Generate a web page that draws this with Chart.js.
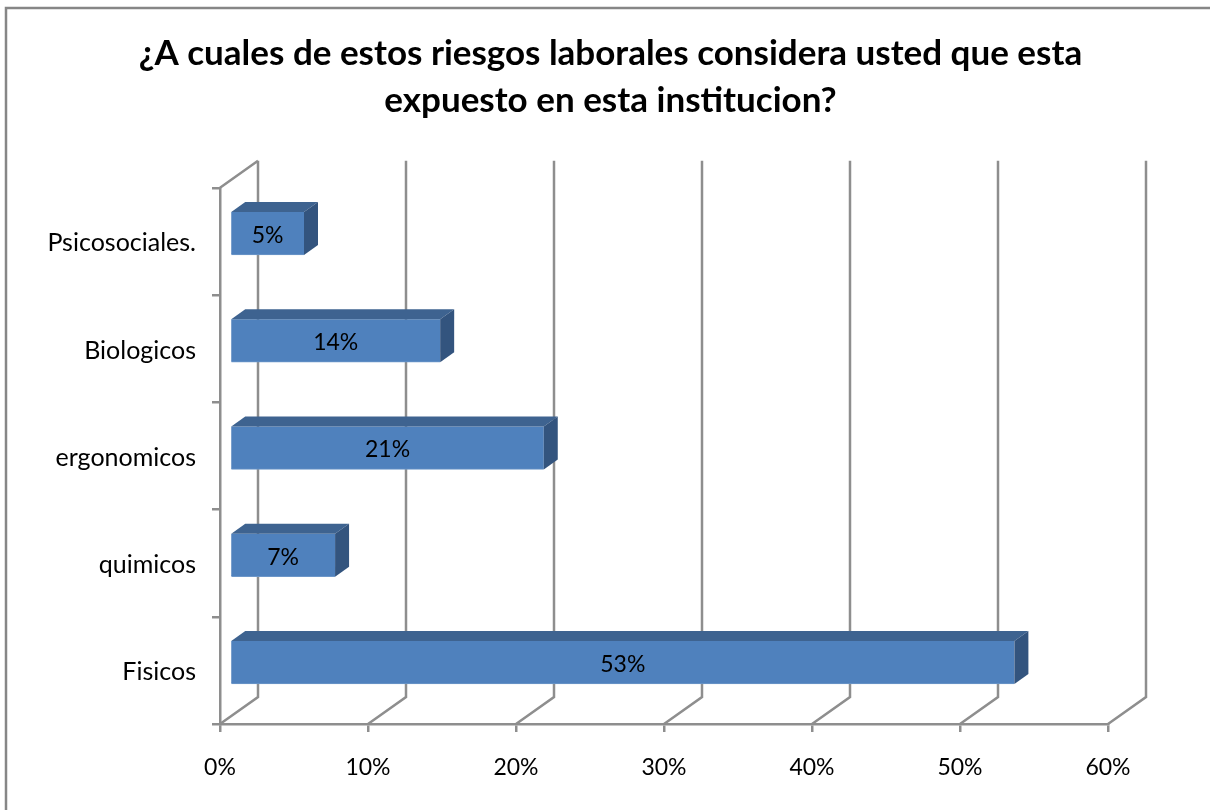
<!DOCTYPE html>
<html>
<head>
<meta charset="utf-8">
<title>Riesgos laborales</title>
<script src="https://cdn.jsdelivr.net/npm/chart.js@4"></script>
<style>
    html, body { margin: 0; padding: 0; background: #ffffff; overflow: hidden; }
    canvas { display: block; }
</style>
</head>
<body>
<canvas id="barChart" width="1210" height="810"></canvas>
<script>
const titleLines = ["¿A cuales de estos riesgos laborales considera usted que esta", "expuesto en esta institucion?"];
const categories = ["Psicosociales.", "Biologicos", "ergonomicos", "quimicos", "Fisicos"];
// bar lengths as measured, the labels on the bars show them rounded
const values = [5, 14.2, 21.2, 7.1, 53];
const xTicks = [0, 10, 20, 30, 40, 50, 60];

const FONT = "Lato, 'Open Sans', sans-serif";
const GRID = "#8e8e8e";

// fake 3d: back wall shift and the shift of the bars inside the box
const wallDx = 38, wallDy = -27;
const barDx = 10, barDy = -8;
const topDx = 14, topDy = -10;

const box3d = {
    id: "box3d",
    beforeDraw(chart) {
        // outer frame, only top and left fit in the picture
        const ctx = chart.ctx;
        ctx.save();
        ctx.strokeStyle = "#868686";
        ctx.lineWidth = 2.5;
        ctx.beginPath();
        ctx.moveTo(6, 810);
        ctx.lineTo(6, 8);
        ctx.lineTo(1210, 8);
        ctx.stroke();
        ctx.restore();
    },
    beforeDatasetsDraw(chart) {
        const ctx = chart.ctx, x = chart.scales.x, a = chart.chartArea;
        ctx.save();
        ctx.strokeStyle = GRID;
        ctx.lineWidth = 2.5;
        ctx.beginPath();
        xTicks.forEach(t => {
            const px = x.getPixelForValue(t);
            ctx.moveTo(px + wallDx, a.top + wallDy);
            ctx.lineTo(px + wallDx, a.bottom + wallDy);
            ctx.lineTo(px, a.bottom);
        });
        ctx.moveTo(a.left, a.top);
        ctx.lineTo(a.left + wallDx, a.top + wallDy);
        ctx.stroke();
        ctx.restore();
    },
    beforeDatasetDraw(chart) {
        chart.ctx.save();
        chart.ctx.translate(barDx, barDy);
    },
    afterDatasetDraw(chart, args) {
        const ctx = chart.ctx;
        args.meta.data.forEach((bar, i) => {
            const top = bar.y - bar.height / 2, bottom = bar.y + bar.height / 2;
            // top face
            ctx.fillStyle = "#3e6390";
            ctx.beginPath();
            ctx.moveTo(bar.base, top);
            ctx.lineTo(bar.base + topDx, top + topDy);
            ctx.lineTo(bar.x + topDx, top + topDy);
            ctx.lineTo(bar.x, top);
            ctx.closePath();
            ctx.fill();
            // side face
            ctx.fillStyle = "#33547e";
            ctx.beginPath();
            ctx.moveTo(bar.x, top);
            ctx.lineTo(bar.x + topDx, top + topDy);
            ctx.lineTo(bar.x + topDx, bottom + topDy);
            ctx.lineTo(bar.x, bottom);
            ctx.closePath();
            ctx.fill();
            // value label
            ctx.fillStyle = "#000000";
            ctx.font = "23px " + FONT;
            ctx.textAlign = "center";
            ctx.textBaseline = "middle";
            ctx.fillText(Math.round(values[i]) + "%", (bar.base + bar.x) / 2, bar.y + 2);
        });
        ctx.restore();
    }
};

new Chart(document.getElementById("barChart"), {
    type: "bar",
    data: {
        labels: categories,
        datasets: [{
            data: values,
            backgroundColor: "#4f81bd",
            borderColor: "#6d97c9",
            borderWidth: { bottom: 1 },
            barThickness: 43
        }]
    },
    plugins: [box3d],
    options: {
        indexAxis: "y",
        responsive: false,
        animation: false,
        layout: { padding: { left: 11, right: 0, top: 0, bottom: 0 } },
        plugins: {
            legend: { display: false },
            tooltip: { enabled: false },
            title: {
                display: true,
                text: titleLines,
                color: "#000000",
                font: { family: FONT, size: 35, weight: "bold", lineHeight: 1.34 },
                padding: { top: 30, bottom: 64 }
            }
        },
        scales: {
            x: {
                min: 0,
                max: 60,
                afterFit(s) { s.paddingRight = 102; s.height = 86; },
                afterBuildTicks(s) { s.ticks = xTicks.map(v => ({ value: v })); },
                grid: { drawOnChartArea: false, color: GRID, lineWidth: 2.5, tickLength: 8, tickColor: GRID },
                border: { color: GRID, width: 2.5 },
                ticks: { color: "#000000", font: { family: FONT, size: 23 }, padding: 22, maxRotation: 0, callback: v => v + "%" }
            },
            y: {
                afterFit(s) { s.width = 209; },
                grid: { drawOnChartArea: false, offset: true, color: GRID, lineWidth: 2.5, tickLength: 8, tickColor: GRID },
                border: { color: GRID, width: 2.5 },
                ticks: { color: "#000000", font: { family: FONT, size: 25 }, padding: 16, labelOffset: 2 }
            }
        }
    }
});
</script>
</body>
</html>
